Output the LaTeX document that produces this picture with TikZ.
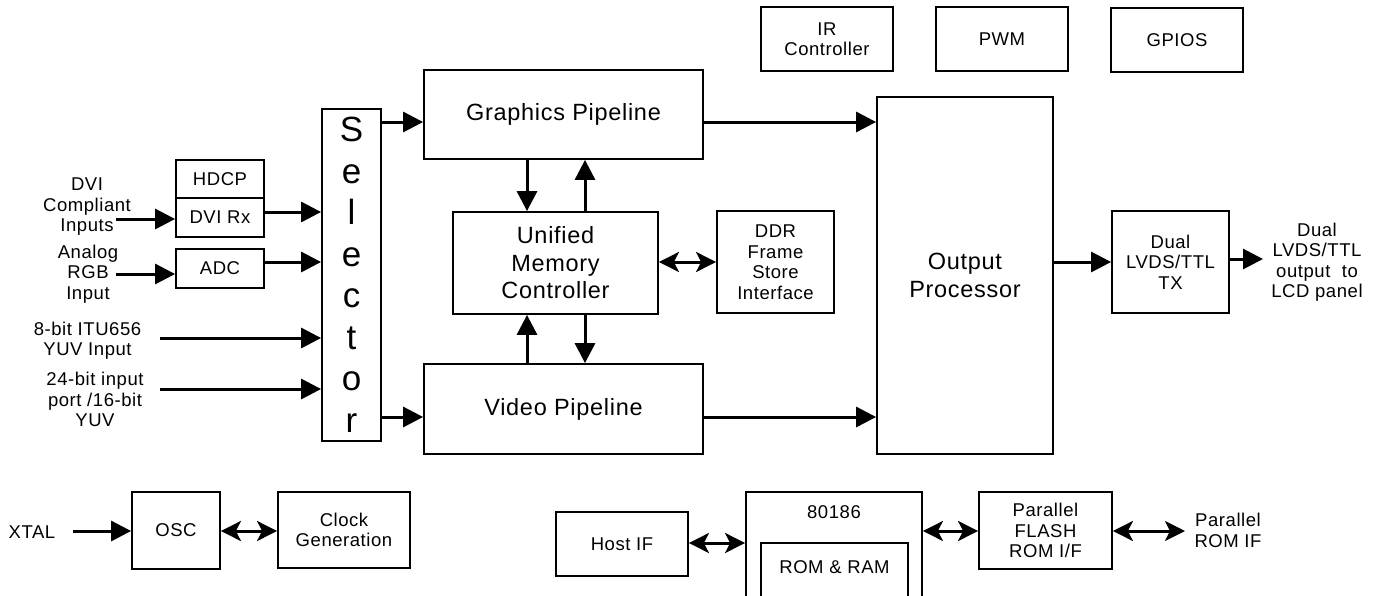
\documentclass[tikz,border=0pt]{standalone}
\usepackage{fontspec}
\setmainfont{Liberation Sans}[LetterSpace=3]
\usetikzlibrary{arrows.meta}

\newcommand{\smalltxt}{\fontsize{18.5}{20.5}\selectfont}
\newcommand{\bigtxt}{\fontsize{23.5}{27.5}\selectfont}

\tikzset{
  blk/.style={draw, line width=1.8pt, align=center, inner sep=0pt, font=\smalltxt},
  lbl/.style={align=center, inner sep=0pt, font=\smalltxt},
  arr/.style={line width=3pt, -{Triangle[length=20pt,width=20pt]}},
  biarr/.style={line width=3pt, {Stealth[length=20pt,width=20pt,inset=5pt]}-{Stealth[length=20pt,width=20pt,inset=5pt]}},
}

\begin{document}
\begin{tikzpicture}[x=1pt, y=1pt]
      \useasboundingbox (0,0) rectangle (1377,-595);
      % Blocks:
      \node[blk, minimum width=59pt, minimum height=332pt, font=\fontsize{35}{41.5}\selectfont] (sel) at (351.5,-275) {S\\e\\l\\e\\c\\t\\o\\r};
      \node[blk, minimum width=88pt, minimum height=38pt] (hdcp) at (220,-179) {HDCP};
      \node[blk, minimum width=88pt, minimum height=39pt] (dvirx) at (220,-217.5) {DVI Rx};
      \node[blk, minimum width=88pt, minimum height=39pt] (adc) at (220,-268.5) {ADC};
      \node[blk, minimum width=279pt, minimum height=89pt, font=\bigtxt] (gfx) at (563.5,-114.5) {Graphics Pipeline};
      \node[blk, minimum width=205pt, minimum height=102pt, font=\bigtxt] (umc) at (555.5,-263) {Unified\\Memory\\Controller};
      \node[blk, minimum width=117pt, minimum height=102pt] (ddr) at (775.5,-262) {DDR\\Frame\\Store\\Interface};
      \node[blk, minimum width=279pt, minimum height=90pt, font=\bigtxt] (vid) at (563.5,-409) {Video Pipeline};
      \node[blk, minimum width=132pt, minimum height=64pt] (ir) at (827,-39) {IR\\Controller};
      \node[blk, minimum width=132pt, minimum height=64pt] (pwm) at (1002,-39) {PWM};
      \node[blk, minimum width=132pt, minimum height=64pt] (gpio) at (1177,-40) {GPIOS};
      \node[blk, minimum width=176pt, minimum height=357pt, font=\bigtxt] (outp) at (965,-275.5) {Output\\Processor};
      \node[blk, minimum width=117pt, minimum height=102pt] (tx) at (1170.5,-262) {Dual\\LVDS/TTL\\TX};
      \node[blk, minimum width=88pt, minimum height=77pt] (osc) at (176,-530.5) {OSC};
      \node[blk, minimum width=132pt, minimum height=76pt] (clk) at (344,-530) {Clock\\Generation};
      \node[blk, minimum width=132pt, minimum height=64pt] (host) at (622,-544) {Host IF};
      \node[blk, minimum width=176pt, minimum height=110pt] (cpu) at (834,-547) {};
      \node[lbl] (cpulbl) at (834,-512) {80186};
      \node[blk, minimum width=147pt, minimum height=59pt] (mem) at (834.5,-572.5) {};
      \node[lbl] (memlbl) at (834.5,-567) {ROM \& RAM};
      \node[blk, minimum width=133pt, minimum height=77pt] (flash) at (1045.5,-530.5) {Parallel\\FLASH\\ROM I/F};
      % Labels:
      \node[lbl] (dvilbl) at (87,-207) {DVI\\Compliant\\Inputs};
      \node[lbl] (rgblbl) at (88,-274) {Analog\\RGB\\Input};
      \node[lbl] (itulbl) at (87.5,-340.5) {8-bit ITU656\\YUV Input};
      \node[lbl] (p24lbl) at (95,-399.5) {24-bit input\\port /16-bit\\YUV};
      \node[lbl] (outlbl) at (1317,-262) {Dual\\LVDS/TTL\\output\ \ to\\LCD panel};
      \node[lbl] (xtal) at (32,-532) {XTAL};
      \node[lbl] (prom) at (1228,-530.5) {Parallel\\ROM IF};
      % Rows, columns and free ends:
      \coordinate (dviin) at (116,-219);
      \coordinate (rgbin) at (116,-274);
      \coordinate (ituin) at (160,-338);
      \coordinate (p24in) at (160,-389);
      \coordinate (rdvi) at (0,-212);
      \coordinate (radc) at (0,-262);
      \coordinate (rgfx) at (0,-122);
      \coordinate (rvid) at (0,-417);
      \coordinate (rmid) at (0,-262);
      \coordinate (rtx) at (0,-259);
      \coordinate (c1) at (527,0);
      \coordinate (c2) at (585,0);
      \coordinate (txout) at (1263,-259);
      \coordinate (xtalin) at (73,-531);
      \coordinate (promout) at (1185,-531);
      \coordinate (rlow) at (0,-531);
      \coordinate (rhost) at (0,-543);
      % Wires:
      \draw[arr] (dviin) -- (dviin -| dvirx.west);
      \draw[arr] (rgbin) -- (rgbin -| adc.west);
      \draw[arr] (dvirx.east |- rdvi) -- (sel.west |- rdvi);
      \draw[arr] (adc.east |- radc) -- (sel.west |- radc);
      \draw[arr] (ituin) -- (ituin -| sel.west);
      \draw[arr] (p24in) -- (p24in -| sel.west);
      \draw[arr] (sel.east |- rgfx) -- (gfx.west |- rgfx);
      \draw[arr] (sel.east |- rvid) -- (vid.west |- rvid);
      \draw[arr] (gfx.east |- rgfx) -- (outp.west |- rgfx);
      \draw[arr] (vid.east |- rvid) -- (outp.west |- rvid);
      \draw[arr] (c1 |- gfx.south) -- (c1 |- umc.north);
      \draw[arr] (c2 |- umc.north) -- (c2 |- gfx.south);
      \draw[arr] (c1 |- vid.north) -- (c1 |- umc.south);
      \draw[arr] (c2 |- umc.south) -- (c2 |- vid.north);
      \draw[biarr] (umc.east |- rmid) -- (ddr.west |- rmid);
      \draw[arr] (outp.east |- rmid) -- (tx.west |- rmid);
      \draw[arr] (tx.east |- rtx) -- (txout);
      \draw[arr] (xtalin) -- (xtalin -| osc.west);
      \draw[biarr] (osc.east |- rlow) -- (clk.west |- rlow);
      \draw[biarr] (host.east |- rhost) -- (cpu.west |- rhost);
      \draw[biarr] (cpu.east |- rlow) -- (flash.west |- rlow);
      \draw[biarr] (flash.east |- rlow) -- (promout);
\end{tikzpicture}
\end{document}
